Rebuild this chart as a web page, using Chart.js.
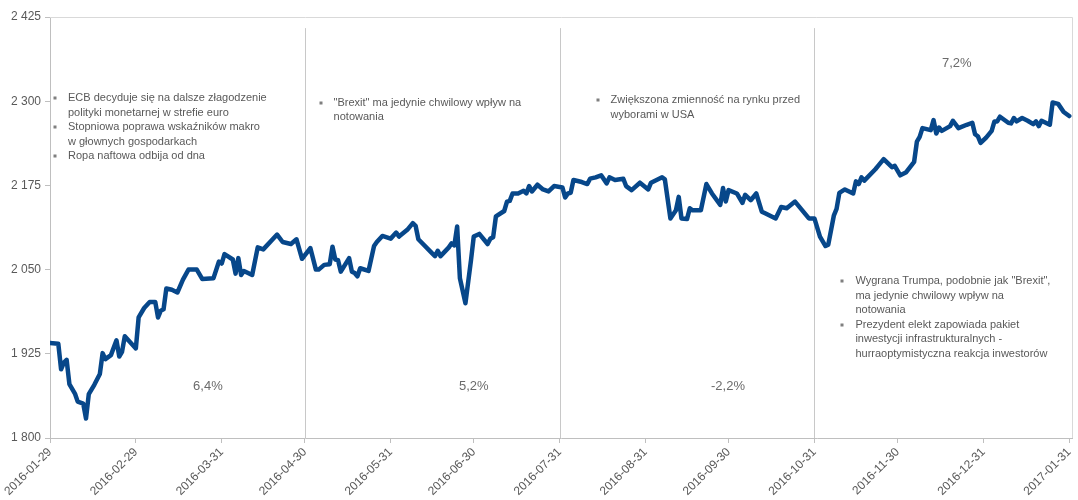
<!DOCTYPE html>
<html>
<head>
<meta charset="utf-8">
<script src="https://cdn.jsdelivr.net/npm/chart.js@4"></script>
<style>
html,body{margin:0;padding:0;background:#fff;}
#c{display:block;}
</style>
</head>
<body>
<canvas id="c" width="1078" height="500"></canvas>
<script>
// ---- data (x = days since 2016-01-29) ----
const dayOffsets = [0,3,4,5,6,7,9,10,12,13,14,16,18,19,20,22,24,25,26,27,31,32,34,36,38,39,40,41,42,44,46,48,50,53,55,59,61,62,63,66,67,68,69,70,73,75,77,82,84,87,89,91,94,96,97,99,101,102,103,104,105,108,109,110,111,112,115,117,118,120,123,125,126,129,131,132,133,138,139,140,141,144,145,146,147,148,150,152,153,155,158,159,160,161,164,165,166,167,169,171,172,173,174,176,178,180,182,185,186,187,188,189,192,194,195,197,199,201,202,204,207,208,210,213,216,217,221,222,224,226,227,228,230,231,232,235,237,239,242,243,244,245,248,250,251,253,255,257,258,262,264,266,269,274,276,278,280,281,283,284,285,287,290,291,292,293,294,298,299,301,304,305,307,309,312,313,314,315,318,319,320,321,322,325,326,328,331,333,334,335,336,338,340,341,342,343,346,347,348,349,351,353,355,356,357,358,361,362,364,366,368];
const indexValues = [1941,1940,1902,1912,1916,1880,1866,1854,1851,1829,1865,1879,1895,1926,1917,1923,1945,1921,1928,1951,1933,1979,1993,2002,2002,1979,1989,1991,2022,2020,2016,2035,2050,2050,2036,2037,2062,2059,2073,2065,2044,2067,2042,2048,2042,2083,2080,2102,2091,2088,2095,2066,2082,2050,2050,2057,2058,2084,2065,2064,2047,2067,2047,2045,2040,2052,2048,2085,2091,2100,2096,2105,2099,2109,2119,2115,2095,2074,2070,2078,2070,2083,2089,2086,2114,2037,2000,2064,2099,2103,2088,2096,2098,2129,2137,2151,2152,2163,2163,2167,2163,2174,2166,2176,2169,2166,2174,2172,2157,2163,2164,2183,2180,2177,2185,2187,2190,2178,2187,2183,2185,2174,2168,2179,2169,2179,2187,2184,2126,2138,2158,2126,2125,2141,2138,2138,2177,2163,2146,2171,2151,2168,2163,2149,2161,2153,2163,2136,2134,2126,2143,2141,2151,2126,2126,2099,2085,2087,2130,2140,2164,2169,2163,2181,2177,2187,2182,2199,2204,2214,2202,2204,2190,2194,2210,2240,2247,2260,2257,2272,2252,2261,2256,2263,2271,2260,2265,2268,2251,2248,2238,2246,2256,2270,2270,2277,2268,2267,2275,2270,2275,2271,2266,2270,2263,2271,2265,2298,2296,2284,2278];

const tickDays = [0,31,62,92,123,153,184,215,245,276,306,337,368];
const tickLabels = ['2016-01-29','2016-02-29','2016-03-31','2016-04-30','2016-05-31','2016-06-30','2016-07-31','2016-08-31','2016-09-30','2016-10-31','2016-11-30','2016-12-31','2017-01-31'];
const yTickValues = [1800,1925,2050,2175,2300,2425];
const separatorDays = [92,184,276];

const periodChanges = ['6,4%','5,2%','-2,2%','7,2%'];
const periodAnchors = [[57,1876],[153,1876],[244.8,1876],[327.4,2356]];

const noteTexts = [
  [['ECB decyduje się na dalsze złagodzenie','polityki monetarnej w strefie euro'],['Stopniowa poprawa wskaźników makro','w głownych gospodarkach'],['Ropa naftowa odbija od dna']],
  [['"Brexit" ma jedynie chwilowy wpływ na','notowania']],
  [['Zwiększona zmienność na rynku przed','wyborami w USA']],
  [['Wygrana Trumpa, podobnie jak "Brexit",','ma jedynie chwilowy wpływ na','notowania'],['Prezydent elekt zapowiada pakiet','inwestycji infrastrukturalnych -','hurraoptymistyczna reakcja inwestorów']]
];
const noteAnchors = [[1.8,2304.7],[97.7,2297.8],[197.7,2301.8],[286.1,2033.1]];

// ---- style ----
const FONT = '"Liberation Sans", Arial, sans-serif';
const TEXT = '#595959';
const AXIS = '#bfbfbf';

const fmt = v => String(v).replace(/\B(?=(\d{3})+(?!\d))/g, ' ');

const overlay = {
  id: 'overlay',
  beforeDatasetsDraw(chart) {
    const {ctx, chartArea: a, scales: {x, y}} = chart;
    ctx.save();
    ctx.lineWidth = 1;
    ctx.strokeStyle = '#d9d9d9';
    ctx.beginPath();
    ctx.moveTo(a.left, Math.round(a.top) + 0.5);
    ctx.lineTo(Math.round(a.right) + 0.5, Math.round(a.top) + 0.5);
    ctx.lineTo(Math.round(a.right) + 0.5, a.bottom);
    ctx.stroke();
    ctx.strokeStyle = '#c8c8c8';
    const topY = y.getPixelForValue(2408.5);
    separatorDays.forEach(d => {
      const px = Math.round(x.getPixelForValue(d)) + 0.5;
      ctx.beginPath();
      ctx.moveTo(px, topY);
      ctx.lineTo(px, a.bottom);
      ctx.stroke();
    });
    ctx.restore();
  },
  afterDatasetsDraw(chart) {
    const {ctx, scales: {x, y}} = chart;
    ctx.save();
    ctx.fillStyle = TEXT;
    ctx.textBaseline = 'middle';
    ctx.font = '11px ' + FONT;
    const LH = 14.6;
    noteTexts.forEach((block, bi) => {
      const bx = x.getPixelForValue(noteAnchors[bi][0]);
      let cy = y.getPixelForValue(noteAnchors[bi][1]);
      block.forEach(item => {
        item.forEach((line, li) => {
          if (li === 0) {
            ctx.fillStyle = '#7f7f7f';
            ctx.fillRect(Math.round(bx) - 1.5, Math.round(cy) - 1.5, 3, 3);
            ctx.fillStyle = TEXT;
          }
          ctx.textAlign = 'left';
          ctx.fillText(line, bx + 13, cy);
          cy += LH;
        });
      });
    });
    ctx.font = '13px ' + FONT;
    ctx.fillStyle = '#6b6b6b';
    ctx.textAlign = 'center';
    periodChanges.forEach((t, i) => {
      ctx.fillText(t, x.getPixelForValue(periodAnchors[i][0]), y.getPixelForValue(periodAnchors[i][1]));
    });
    ctx.restore();
  }
};

new Chart(document.getElementById('c'), {
  type: 'line',
  data: {
    datasets: [{
      data: dayOffsets.map((d, i) => ({x: d, y: indexValues[i]})),
      borderColor: '#07478a',
      borderWidth: 4.5,
      pointRadius: 0,
      tension: 0,
      fill: false,
      borderJoinStyle: 'round',
      borderCapStyle: 'round'
    }]
  },
  options: {
    responsive: false,
    animation: false,
    layout: {padding: {top: 17, right: 6, left: 0, bottom: 0}},
    plugins: {legend: {display: false}, tooltip: {enabled: false}},
    scales: {
      x: {
        type: 'linear',
        min: 0,
        max: 369,
        afterBuildTicks: s => { s.ticks = tickDays.map(v => ({value: v})); },
        afterFit: s => { s.height = 62; s.paddingRight = 0; s.paddingLeft = 0; },
        grid: {display: true, drawOnChartArea: false, drawTicks: true, tickLength: 5, color: AXIS},
        border: {display: true, color: AXIS},
        ticks: {
          autoSkip: false,
          maxRotation: 45,
          minRotation: 45,
          padding: 2,
          color: TEXT,
          font: {family: FONT, size: 12},
          callback: v => { const i = tickDays.indexOf(v); return i >= 0 ? tickLabels[i] : ''; }
        }
      },
      y: {
        min: 1800,
        max: 2425,
        afterBuildTicks: s => { s.ticks = yTickValues.map(v => ({value: v})); },
        afterFit: s => { s.width = 50; },
        grid: {display: true, drawOnChartArea: false, drawTicks: true, tickLength: 5, color: AXIS},
        border: {display: true, color: AXIS},
        ticks: {
          padding: 4,
          color: TEXT,
          font: {family: FONT, size: 12},
          callback: v => fmt(v)
        }
      }
    }
  },
  plugins: [overlay]
});
</script>
</body>
</html>
